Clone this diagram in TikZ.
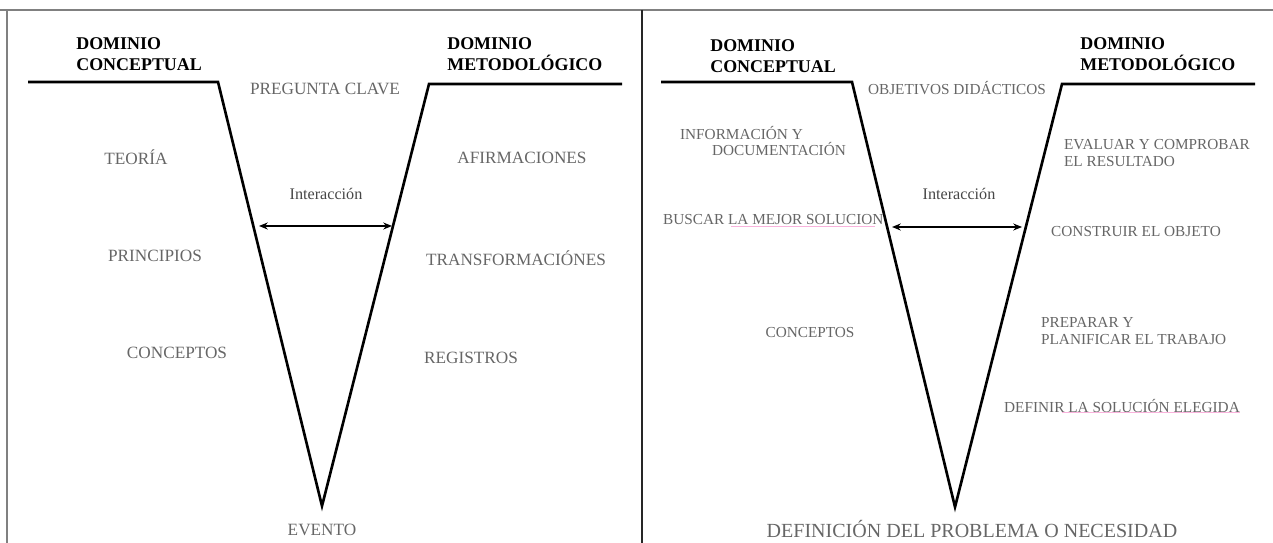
\documentclass[tikz,border=0pt]{standalone}
\usepackage{fontspec}
\setmainfont{Liberation Serif}
\usetikzlibrary{arrows.meta}

\begin{document}
\begin{tikzpicture}[
  x=0.02cm,
  y=-0.02cm,
  >={Stealth[length=5pt,width=4pt]},
  frame/.style={draw=black!50, line width=0.9pt},
  divider/.style={draw=black!85, line width=0.9pt},
  vline/.style={draw=black, line width=1.5pt, line join=miter},
  head/.style={anchor=west, align=left, inner sep=0pt, font=\bfseries\fontsize{10.2}{12}\selectfont},
  lab/.style={text=black!60, inner sep=1pt, font=\fontsize{9.8}{11}\selectfont},
  labr/.style={text=black!60, inner sep=1pt, align=left, font=\fontsize{8.7}{9.6}\selectfont},
  inter/.style={text=black!72, inner sep=1pt, font=\fontsize{9.2}{10}\selectfont},
  arrow/.style={<->, line width=0.7pt},
  spell/.style={draw=magenta!30, line width=0.35pt}
]
  \useasboundingbox (0,0) rectangle (1273,543);

  % marco
  \draw[frame] (0,10) -- (1273,10);
  \draw[frame] (7,10) -- (7,543);
  \draw[divider] (642,10) -- (642,543);

  % panel izquierdo
  \coordinate (l0) at (28,82);
  \coordinate (l1) at (218,82);
  \coordinate (l2) at (322,506);
  \coordinate (l3) at (429,84);
  \coordinate (l4) at (622,84);
  \draw[vline] (l0) -- (l1) -- (l2) -- (l3) -- (l4);

  \node[head] (hdcl) at (76,54) {DOMINIO\\CONCEPTUAL};
  \node[head] (hdml) at (447,54) {DOMINIO\\METODOLÓGICO};

  \node[lab] (pregunta) at (325,89) {PREGUNTA CLAVE};
  \node[lab] (teoria) at (136,157) {TEORÍA};
  \node[lab] (afirm) at (522,158) {AFIRMACIONES};
  \node[inter] (interl) at (326,194) {Interacción};
  \node[lab] (principios) at (155,256) {PRINCIPIOS};
  \node[lab] (transf) at (516,258) {TRANSFORMACIÓNES};
  \node[lab] (conceptosl) at (177,353) {CONCEPTOS};
  \node[lab] (registros) at (471,358) {REGISTROS};
  \node[lab] (evento) at (322,530) {EVENTO};

  \coordinate (al) at (259,226);
  \coordinate (bl) at (392,226);
  \draw[arrow] (al) -- (bl);

  % panel derecho
  \coordinate (r0) at (661,82);
  \coordinate (r1) at (852,82);
  \coordinate (r2) at (955,507);
  \coordinate (r3) at (1062,84);
  \coordinate (r4) at (1255,84);
  \draw[vline] (r0) -- (r1) -- (r2) -- (r3) -- (r4);

  \node[head] (hdcr) at (710,56) {DOMINIO\\CONCEPTUAL};
  \node[head] (hdmr) at (1080,54) {DOMINIO\\METODOLÓGICO};

  \node[labr] (objetivos) at (957,88) {OBJETIVOS DIDÁCTICOS};
  \node[labr, anchor=west] (info) at (678,141) {INFORMACIÓN Y\\\hspace*{0.64cm}DOCUMENTACIÓN};
  \node[labr, anchor=west] (evaluar) at (1062,153) {EVALUAR Y COMPROBAR\\EL RESULTADO};
  \node[inter] (interr) at (959,194) {Interacción};
  \node[labr, anchor=west] (buscar) at (661,220) {BUSCAR LA MEJOR SOLUCION};
  \node[labr] (construir) at (1136,232) {CONSTRUIR EL OBJETO};
  \node[labr] (conceptosr) at (810,333) {CONCEPTOS};
  \node[labr, anchor=west] (preparar) at (1039,331) {PREPARAR Y\\PLANIFICAR EL TRABAJO};
  \node[labr] (definir) at (1122,406) {DEFINIR LA SOLUCIÓN ELEGIDA};
  \node[text=black!60, font=\fontsize{11.4}{13}\selectfont] (definicion) at (972,529) {DEFINICIÓN DEL PROBLEMA O NECESIDAD};

  \coordinate (ar) at (892,227);
  \coordinate (br) at (1022,227);
  \draw[arrow] (ar) -- (br);

  % subrayados del corrector
  \draw[spell] (731,226) -- (875,226);
  \draw[spell] (1062,412) -- (1240,412);
\end{tikzpicture}
\end{document}
